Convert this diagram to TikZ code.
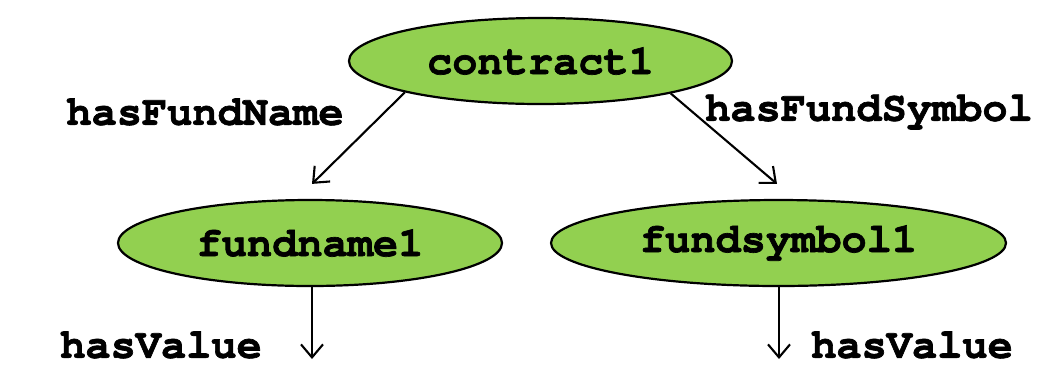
\documentclass[tikz,border=0pt]{standalone}
\usepackage{fontspec}
\setmonofont[BoldFeatures={FakeBold=1.6}]{TeX Gyre Cursor}
\usetikzlibrary{shapes.geometric,arrows.meta}
\definecolor{nodegreen}{HTML}{92D050}
\tikzset{
  res/.style={ellipse, draw=black, line width=2.2pt, fill=nodegreen, inner sep=0pt,
    font=\fontsize{42}{50}\selectfont\ttfamily\bfseries},
  lbl/.style={font=\fontsize{42}{50}\selectfont\ttfamily\bfseries, inner sep=0pt},
  rel/.style={line width=2.1pt, -{Straight Barb[length=13pt,width=22pt,line width=2.1pt]}}
}
\begin{document}
\begin{tikzpicture}[x=1pt,y=-1pt]
\useasboundingbox (0,0) rectangle (1038,368);
\node[res, minimum width=383pt, minimum height=86pt] (c) at (540.5,61) {contract1};
\node[res, minimum width=384pt, minimum height=86pt] (fn) at (310,243) {fundname1};
\node[res, minimum width=455pt, minimum height=86pt] (fs) at (778.5,243) {fundsymbol1};
\coordinate (v1) at (312,359);
\coordinate (v2) at (779,359);
\draw[rel] (c.193.5) -- ([xshift=2pt,yshift=15pt]fn.north);
\draw[rel] (c.346.5) -- ([xshift=-1.5pt,yshift=15pt]fs.north);
\draw[rel] (fn.south -| v1) -- (v1);
\draw[rel] (fs.south -| v2) -- (v2);
\node[lbl, anchor=center] (l1) at (205,112) {hasFundName};
\node[lbl, anchor=center] (l2) at (869,112) {hasFundSymbol};
\node[lbl, anchor=center] (l3) at (161,345) {hasValue};
\node[lbl, anchor=center] (l4) at (912,345) {hasValue};
\end{tikzpicture}
\end{document}
